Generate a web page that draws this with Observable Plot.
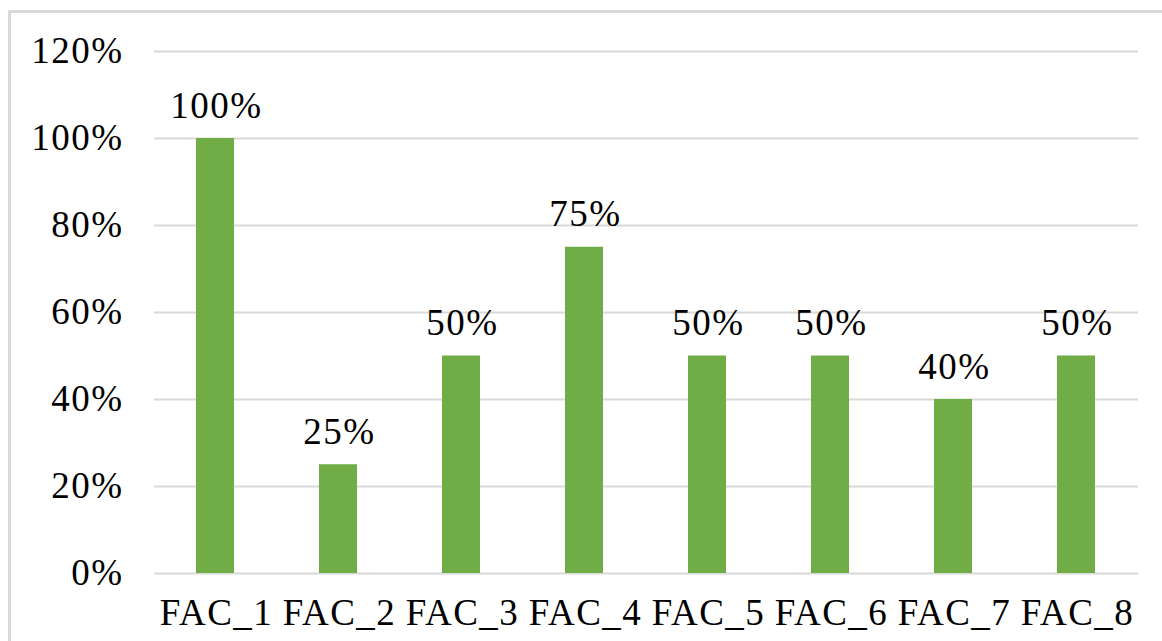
<!DOCTYPE html>
<html>
<head>
<meta charset="utf-8">
<script src="https://cdn.jsdelivr.net/npm/d3@7"></script>
<script src="https://cdn.jsdelivr.net/npm/@observablehq/plot@0.6"></script>
<style>
  html, body { margin: 0; padding: 0; background: #fff; overflow: hidden; width: 1162px; height: 641px; }
  #frame { position: absolute; left: 8px; top: 10px; width: 1300px; height: 800px; border: 3px solid #d9d9d9; box-sizing: border-box; pointer-events: none; }
  #chart { position: absolute; left: 0; top: 0; }
</style>
</head>
<body>
<div id="chart"></div>
<div id="frame"></div>
<script>
const categories = ["FAC_1", "FAC_2", "FAC_3", "FAC_4", "FAC_5", "FAC_6", "FAC_7", "FAC_8"];
const values = [1.00, 0.25, 0.50, 0.75, 0.50, 0.50, 0.40, 0.50];
const yTicks = [0, 0.2, 0.4, 0.6, 0.8, 1.0, 1.2];

const data = categories.map((c, i) => ({category: c, value: values[i]}));
const pct = d3.format(".0%");

const chart = Plot.plot({
  width: 1162,
  height: 641,
  marginLeft: 154,
  marginRight: 24,
  marginTop: 51,
  marginBottom: 68,
  style: {fontFamily: "'Liberation Serif', 'Times New Roman', serif", fontSize: "37px", letterSpacing: "1.5px", color: "#000", background: "transparent"},
  x: {domain: categories, paddingInner: 0.69, paddingOuter: 0.345, label: null},
  y: {domain: [0, 1.2], label: null},
  marks: [
    Plot.ruleY(yTicks, {stroke: "#d9d9d9", strokeWidth: 2}),
    Plot.barY(data, {x: "category", y: "value", fill: "#70AD47"}),
    Plot.text(data, {x: "category", y: "value", text: d => pct(d.value), lineAnchor: "bottom", dy: -21, dx: 1, fontSize: 37, fill: "#000"}),
    Plot.axisY({ticks: yTicks, tickFormat: pct, tickSize: 0, tickPadding: 31, fontSize: 37, label: null}),
    Plot.axisX({tickSize: 0, tickPadding: 25, dx: 1, fontSize: 37, label: null})
  ]
});
document.getElementById("chart").appendChild(chart);
</script>
</body>
</html>
